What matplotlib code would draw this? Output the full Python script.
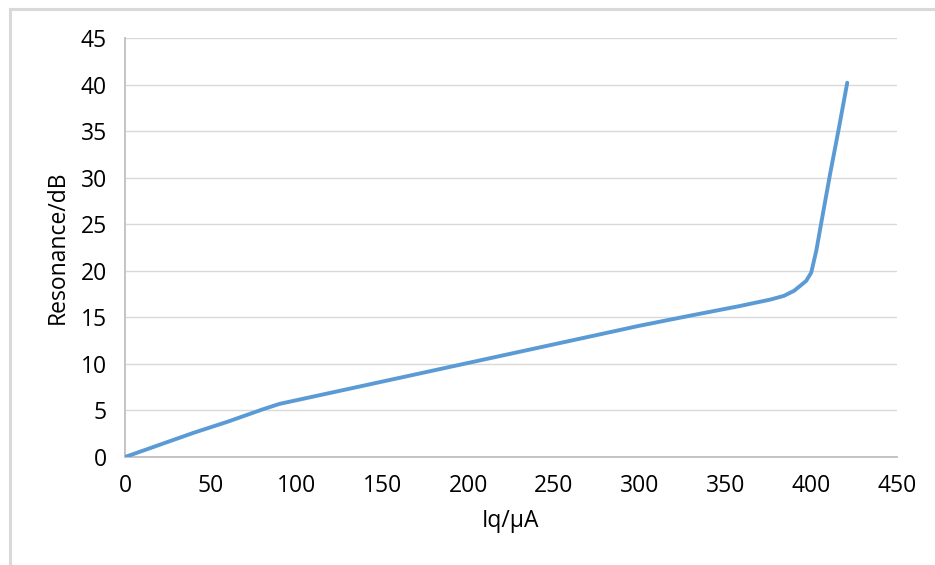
"""
Resonance vs. quiescent current curve.
"""
import matplotlib
matplotlib.use('Agg')
import matplotlib.pyplot as plt
from matplotlib.lines import Line2D

# Data
iq_ua = [0, 20, 40, 60, 80, 90, 100, 150, 200, 250, 300, 330, 358, 376,
         384, 390, 397, 400, 403, 406, 411, 416, 421]
resonance_db = [0, 1.3, 2.6, 3.8, 5.1, 5.7, 6.1, 8.1, 10.1, 12.1, 14.1, 15.2,
                16.2, 16.9, 17.3, 17.85, 18.9, 19.8, 22.2, 25.3, 30.4, 35.2, 40.2]

x_ticks = [0, 50, 100, 150, 200, 250, 300, 350, 400, 450]
y_ticks = [0, 5, 10, 15, 20, 25, 30, 35, 40, 45]

plt.rcParams['font.family'] = ['Open Sans', 'DejaVu Sans']

fig = plt.figure(figsize=(9.35, 5.65), dpi=100)
ax = fig.add_axes([125 / 935, 1 - 457 / 565, (897 - 125) / 935, (457 - 38) / 565])

ax.plot(iq_ua, resonance_db, color='#5B9BD5', linewidth=2.8,
        solid_capstyle='round', solid_joinstyle='round', zorder=3)

ax.set_xlim(0, 450)
ax.set_ylim(0, 45)
ax.set_xticks(x_ticks)
ax.set_yticks(y_ticks)
ax.tick_params(axis='both', length=0, labelsize=16.5, colors='#000000')
ax.tick_params(axis='y', pad=13)
ax.tick_params(axis='x', pad=12)

ax.grid(True, axis='y', color='#D9D9D9', linewidth=1.0)
ax.set_axisbelow(True)
for side in ['top', 'right']:
    ax.spines[side].set_visible(False)
for side in ['left', 'bottom']:
    ax.spines[side].set_color('#BFBFBF')
    ax.spines[side].set_linewidth(1.3)

ax.set_xlabel('Iq/μA', fontsize=16.5, labelpad=8)
ax.set_ylabel('Resonance/dB', fontsize=16.5, labelpad=8)

# Light outer frame (only left and top edges are visible in the reference)
fig.add_artist(Line2D([10 / 935, 10 / 935], [0, 1 - 9 / 565],
                      transform=fig.transFigure, color='#D9D9D9', linewidth=2.2))
fig.add_artist(Line2D([10 / 935, 1], [1 - 9 / 565, 1 - 9 / 565],
                      transform=fig.transFigure, color='#D9D9D9', linewidth=2.2))

fig.savefig('out.png', dpi=100)
